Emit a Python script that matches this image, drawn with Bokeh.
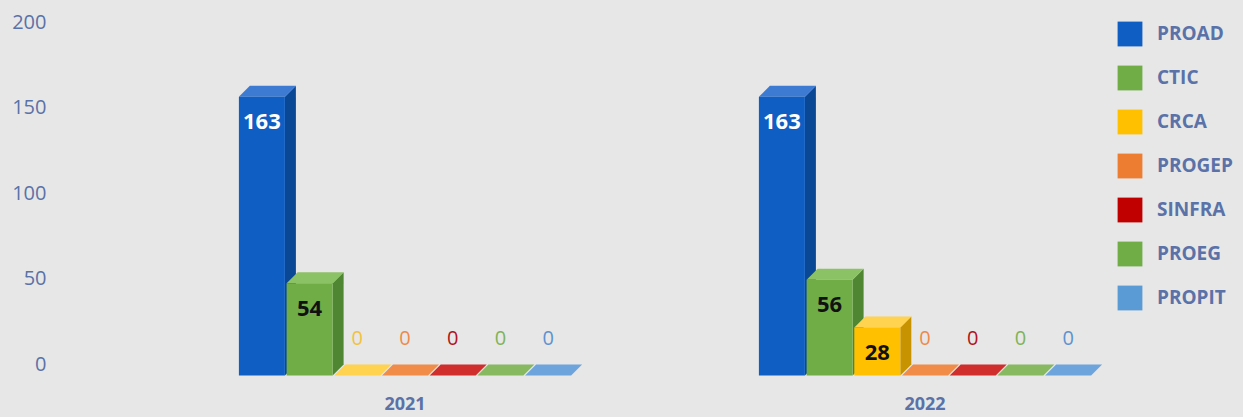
from bokeh.plotting import figure
from bokeh.models import Range1d, LinearAxis, FixedTicker, Legend, LegendItem
from bokeh.core.properties import value
from bokeh.embed import file_html
from bokeh.resources import INLINE

# ---------------- data ----------------
years = ["2021", "2022"]
series = ["PROAD", "CTIC", "CRCA", "PROGEP", "SINFRA", "PROEG", "PROPIT"]
values_2021 = [163, 54, 0, 0, 0, 0, 0]
values_2022 = [163, 56, 28, 0, 0, 0, 0]
y_ticks = [0, 50, 100, 150, 200]

# ---------------- styles ----------------
front_colors = ["#0f5ec4", "#70ad47", "#ffc000", "#ed7d31", "#c00000", "#70ad47", "#5b9bd5"]
top_colors = ["#3d7bd2", "#8cc266", "#ffd24f", "#f08c48", "#d02d2d", "#86b960", "#6ea4dc"]
side_colors = ["#0a4795", "#4f8631", "#c79300", "#b85c1e", "#8e0000", "#4f8631", "#3f77ad"]
inside_label_colors = ["#ffffff", "#111111", "#111111", "#111111", "#ffffff", "#111111", "#111111"]
zero_label_colors = ["#3d7bd2", "#7fb35a", "#f2c23e", "#ee8a4a", "#b0141c", "#7fb35a", "#5d93cf"]
text_blue = "#5a72a8"
bg = "#e7e7e7"

# layout constants (page pixels; page margin set to 0, figure fills the window)
W, H = 1243, 417
PX = 1.71            # pixels per value unit
ZERO_Y = 375         # page y of front-plane zero
FRAME_TOP, FRAME_BOTTOM = 8, 379
FRAME_LEFT, FRAME_RIGHT = 60, 1243
GROUP0_X, GROUP_SPACING = 404.5, 520.0
SLOT = 47.7 / GROUP_SPACING
BAR_W = 46 / GROUP_SPACING
DX = 11 / GROUP_SPACING
DY = 11 / PX

y_range = Range1d((ZERO_Y - FRAME_BOTTOM) / PX, (ZERO_Y - FRAME_TOP) / PX)
x_range = Range1d((FRAME_LEFT - GROUP0_X) / GROUP_SPACING, (FRAME_RIGHT - GROUP0_X) / GROUP_SPACING)

p = figure(width=W, height=H, output_backend="svg", toolbar_location=None,
           x_range=x_range, y_range=y_range, x_axis_type=None, y_axis_type=None,
           min_border_left=FRAME_LEFT, min_border_right=W - FRAME_RIGHT,
           min_border_top=FRAME_TOP, min_border_bottom=H - FRAME_BOTTOM)
p.background_fill_color = bg
p.border_fill_color = bg
p.outline_line_color = None
p.grid.visible = False

# back-plane range for the value axis
p.extra_y_ranges = {"back": Range1d(y_range.start - 12 / PX, y_range.end - 12 / PX)}
yaxis = LinearAxis(y_range_name="back", ticker=FixedTicker(ticks=y_ticks))
yaxis.axis_line_color = None
yaxis.major_tick_line_color = None
yaxis.minor_tick_line_color = None
yaxis.major_label_standoff = 8
yaxis.major_label_text_font = "Open Sans"
yaxis.major_label_text_font_size = "20px"
yaxis.major_label_text_color = text_blue
p.add_layout(yaxis, "left")

xaxis = LinearAxis(ticker=FixedTicker(ticks=list(range(len(years)))),
                   major_label_overrides={i: y for i, y in enumerate(years)})
xaxis.axis_line_color = None
xaxis.major_tick_line_color = None
xaxis.minor_tick_line_color = None
xaxis.major_label_standoff = 11
xaxis.major_label_text_font = "Open Sans"
xaxis.major_label_text_font_style = "bold"
xaxis.major_label_text_font_size = "18px"
xaxis.major_label_text_color = text_blue
p.add_layout(xaxis, "below")

all_values = [values_2021, values_2022]
legend_items = []
n = len(series)
for i, name in enumerate(series):
    lefts, rights, tops = [], [], []
    top_xs, top_ys, side_xs, side_ys = [], [], [], []
    for g, vals in enumerate(all_values):
        v = vals[i]
        xl = g + (i - (n - 1) / 2) * SLOT - BAR_W / 2
        xr = xl + BAR_W
        lefts.append(xl); rights.append(xr); tops.append(v)
        top_xs.append([xl, xr, xr + DX, xl + DX])
        top_ys.append([v, v, v + DY, v + DY])
        side_xs.append([xr, xr + DX, xr + DX, xr])
        side_ys.append([0, DY, v + DY, v])
    p.patches(side_xs, side_ys, fill_color=side_colors[i], line_color=None)
    p.patches(top_xs, top_ys, fill_color=top_colors[i], line_color=None)
    r = p.quad(left=lefts, right=rights, bottom=0, top=tops,
               fill_color=front_colors[i], line_color=None)
    legend_items.append(LegendItem(label=name, renderers=[r]))

    # value labels
    lx, ly, lt, lc, zx, zy, zt, zc = [], [], [], [], [], [], [], []
    for g, vals in enumerate(all_values):
        v = vals[i]
        cx = g + (i - (n - 1) / 2) * SLOT
        if v > 0:
            lx.append(cx); ly.append(v - 25 / PX); lt.append(str(v)); lc.append(inside_label_colors[i])
        else:
            zx.append(cx); zy.append(38 / PX); zt.append(str(v)); zc.append(zero_label_colors[i])
    if lx:
        p.text(x=lx, y=ly, text=lt, text_color=lc, text_font=value("Open Sans"),
               text_font_style="bold", text_font_size="22px",
               text_align="center", text_baseline="middle")
    if zx:
        p.text(x=zx, y=zy, text=zt, text_color=zc, text_font=value("Open Sans"),
               text_font_style="normal", text_font_size="20px",
               text_align="center", text_baseline="middle")

legend = Legend(items=legend_items, location=(1114 - FRAME_LEFT, FRAME_BOTTOM - (17.5 + 7 * 31 + 6 * 13)))
legend.glyph_width = 31
legend.glyph_height = 31
legend.spacing = 13
legend.padding = 0
legend.margin = 0
legend.label_standoff = 12
legend.border_line_color = None
legend.background_fill_alpha = 0
legend.label_text_font = "Open Sans"
legend.label_text_font_style = "bold"
legend.label_text_font_size = "19px"
legend.label_text_color = text_blue
p.add_layout(legend)

html = file_html(p, INLINE)
html = html.replace("</head>",
                    "<style>html,body{background:#e7e7e7;margin:0 !important;padding:0 !important;overflow:hidden;}</style></head>", 1)
open("out.html", "w").write(html)
